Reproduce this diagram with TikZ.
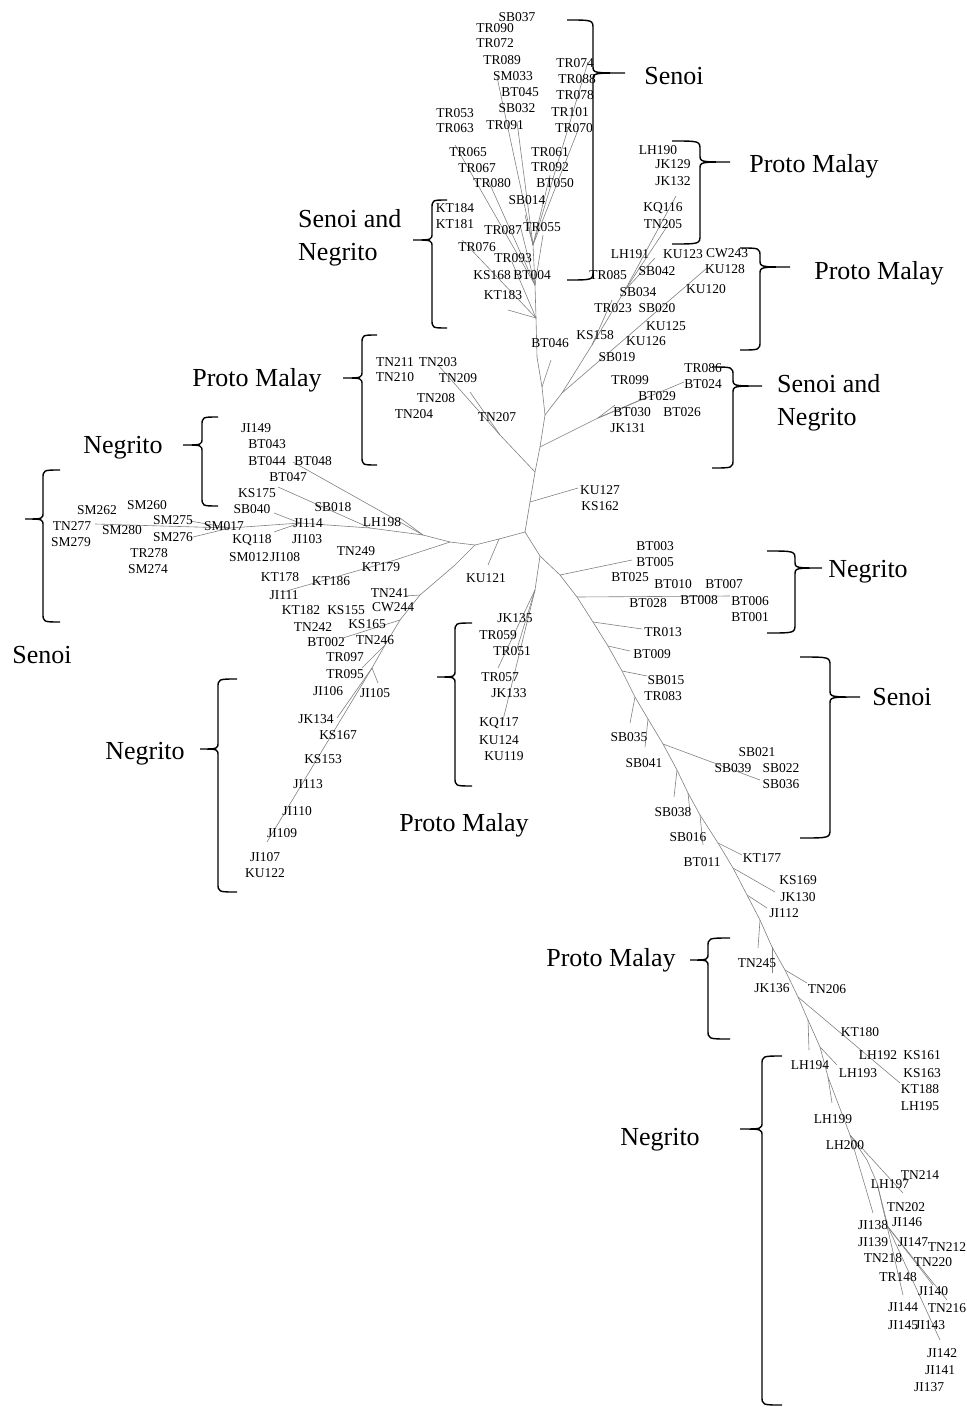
\documentclass[tikz,border=0pt]{standalone}
\usepackage{fontspec}
\setmainfont{Liberation Serif}
% curly group bracket: end x, spine x, tip x, top y, tip y, bottom y
\newcommand{\grpbrace}[6]{%
  \draw[brc] (#1,#4) .. controls (#2,#4) .. (#2,#4+9) -- (#2,#5-7)
    .. controls (#2,#5) .. (#3,#5) .. controls (#2,#5) .. (#2,#5+7)
    -- (#2,#6-9) .. controls (#2,#6) .. (#1,#6);}

\begin{document}
\begin{tikzpicture}[x=1pt,y=-1pt,
  leaf/.style={inner sep=0pt,text=black,font=\fontsize{13.5}{14}\selectfont},
  grp/.style={inner sep=0pt,text depth=0pt,font=\fontsize{26}{33}\selectfont},
  branch/.style={draw=black!50,line width=0.6pt},
  brc/.style={draw=black,line width=1.4pt}]
\useasboundingbox (0,0) rectangle (966,1407);

% inner points of the tree
\foreach \c/\x/\y in {c0/525/532, c1/530/502, c2/535/472, c3/540/447, c4/545/415,
  c5/542/387, c6/537/357, s1/536/318, s2/535/285, s3/533/245,
  pa/562/393, pb/592/345, pc/625/290, bt0/598/418, tn0/500/435,
  m0/499/539, l0/475/545, l1/450/542, l2/423/535, l3/370/528, l4/300/523, l5/230/528,
  k0/395/560, n0/455/565, n1/420/595, n2/400/620, n3/385/645, n4/372/668,
  d0/540/556, q0/535/590,
  r0/560/575, r1/577/597, r2/593/622, r3/608/646, r4/622/671, r5/635/697,
  r6/648/719, r7/663/744, r8/677/770, r9/688/793, r9a/700/815, r10/718/843,
  r11/733/868, r12/747/895, r13/760/920, r14/772/947, r15/785/970, r16/798/997,
  r17/808/1020, r18/820/1047, r19/828/1077, r20/850/1135, r21/867/1160,
  r22/877/1183, r23/888/1227}
  \coordinate (\c) at (\x,\y);

% branch tips
\foreach \c/\x/\y in {a1/508/310, a2/462/240, a3/455/145, a4/488/180, a5/512/262,
  a6/497/77, a7/517/122, a8/525/215, a9/588/62, a10/578/130, a11/550/175,
  a12/543/235, a13/520/225, a14/551/360,
  b1/612/300, b2/655/258, b3/676/196, b4/670/222, b5/707/268,
  d1/684/382, d2/615/405, d3/645/398, e1/438/365, e2/470/392, f1/578/488,
  g1/400/518, g2/293/462, g3/278/487, g4/274/513, g5/274/532, g6/95/524,
  g7/193/537, g8/190/521, h1/283/592,
  i1/405/596, i2/343/638, i3/362/668, i4/378/683, i5/337/718, i6/267/842,
  j1/488/565, j2/503/720, j3/516/652, j4/498/668,
  u1/632/560, u2/730/596, u3/642/629, u4/630/651, u5/647/676, u6/630/723,
  u7/645/747, u8/760/780, u9/674/797, u10/690/812, u11/742/855, u12/775/892,
  u13/767/908, u14/758/948, u15/772/973, u16/807/983, u17/900/1083, u18/809/1050,
  u19/837/1065, u20/832/1103, u21/903/1193, u22/873/1213, u23/903/1295,
  u24/947/1300, u25/940/1340, u26/933/1285, u27/703/845}
  \coordinate (\c) at (\x,\y);

\path[branch]
  (c0) edge (c1) (c1) edge (c2) (c2) edge (c3) (c3) edge (c4) (c4) edge (c5) (c5) edge (c6)
  (c6) edge (s1) (s1) edge (s2) (s2) edge (s3)
  (s1) edge (a1) (s1) edge (a2) (s1) edge (a5)
  (s2) edge (a3) (s2) edge (a4) (s2) edge (a12) (s2) edge (a13)
  (s3) edge (a6) (s3) edge (a7) (s3) edge (a8) (s3) edge (a9) (s3) edge (a10) (s3) edge (a11)
  (c5) edge (a14)
  (c4) edge (pa) (pa) edge (pb) (pb) edge (pc) (pb) edge (b1)
  (pc) edge (b2) (pc) edge (b3) (pc) edge (b4) (pa) edge (b5)
  (c3) edge (bt0) (bt0) edge (d1) (bt0) edge (d2) (bt0) edge (d3)
  (c2) edge (tn0) (tn0) edge (e1) (tn0) edge (e2)
  (c1) edge (f1)
  (c0) edge (m0) (m0) edge (l0) (m0) edge (j1)
  (l0) edge (l1) (l1) edge (l2) (l2) edge (g1) (l2) edge (g2) (l2) edge (l3)
  (l3) edge (g3) (l3) edge (l4) (l4) edge (g4) (l4) edge (g5) (l4) edge (l5)
  (l5) edge (g6) (l5) edge (g7) (l5) edge (g8)
  (l1) edge (k0) (k0) edge (h1)
  (l0) edge (n0) (n0) edge (n1) (n1) edge (i1) (n1) edge (n2) (n2) edge (i2)
  (n2) edge (n3) (n3) edge (i3) (n3) edge (n4) (n4) edge (i4) (n4) edge (i5) (n4) edge (i6)
  (c0) edge (d0) (d0) edge (q0) (q0) edge (j2) (q0) edge (j3) (q0) edge (j4)
  (r0) edge (u1) (r1) edge (u2) (r2) edge (u3) (r3) edge (u4) (r4) edge (u5)
  (r5) edge (u6) (r6) edge (u7) (r7) edge (u8) (r8) edge (u9) (r9) edge (u10)
  (r9a) edge (u27) (r10) edge (u11) (r11) edge (u12) (r12) edge (u13) (r13) edge (u14)
  (r14) edge (u15) (r15) edge (u16) (r16) edge (u17) (r17) edge (u18) (r18) edge (u19)
  (r19) edge (u20) (r20) edge (u21) (r20) edge (u22) (r22) edge (u23)
  (r23) edge (u24) (r23) edge (u26) (r23) edge (u25);
\draw[branch] (d0) -- (r0) -- (r1) -- (r2) -- (r3) -- (r4) -- (r5) -- (r6) -- (r7)
  -- (r8) -- (r9) -- (r9a) -- (r10) -- (r11) -- (r12) -- (r13) -- (r14) -- (r15)
  -- (r16) -- (r17) -- (r18) -- (r19) -- (r20) -- (r21) -- (r22) -- (r23);

% sample labels
\foreach \n/\x/\y in {SB037/517/17, TR090/495/28, TR072/495/43, TR089/502/60,
  SM033/513/76, BT045/520/92, SB032/517/108, TR091/505/125, TR053/455/113,
  TR063/455/128, TR074/575/63, TR088/577/79, TR078/575/95, TR101/570/112,
  TR070/574/128, TR065/468/152, TR067/477/168, TR080/492/183, TR061/550/152,
  TR092/550/167, BT050/555/183, SB014/527/200, KT184/455/208, KT181/455/224,
  TR087/503/230, TR055/542/227, TR076/477/247, TR093/513/258, KS168/492/275,
  BT004/532/275, KT183/503/295, BT046/550/343,
  LH190/658/150, JK129/673/164, JK132/673/181, KQ116/663/208, TN205/663/224,
  LH191/630/254, KU123/683/254, CW243/727/253, SB042/657/271, KU128/725/269,
  TR085/608/275, SB034/638/292, KU120/706/289, TR023/613/308, SB020/657/308,
  KU125/666/326, KS158/595/335, KU126/646/341, SB019/617/357,
  TR086/703/368, TR099/630/380, BT024/703/384, BT029/657/396, BT030/632/412,
  BT026/682/412, JK131/628/428,
  TN211/395/362, TN203/438/362, TN210/395/377, TN209/458/378, TN208/436/398,
  TN204/414/414, TN207/497/417,
  JI149/256/428, BT043/267/444, BT044/267/461, BT048/313/461, BT047/288/477,
  KS175/257/493, SB040/252/509, SB018/333/507, LH198/382/522, JI114/308/523,
  SM017/224/526, KQ118/252/540, JI103/307/539, SM012/249/557, JI108/285/557,
  SM262/97/510, SM260/147/505, TN277/72/526, SM280/122/530, SM275/173/520,
  SM276/173/537, SM279/71/542, TR278/149/553, SM274/148/569,
  TN249/356/551, KT179/381/567, KT178/280/577, KT186/331/581, JI111/284/595,
  TN241/390/593, KT182/301/610, KS155/346/610, CW244/393/607, KS165/367/624,
  TN242/313/627, BT002/326/642, TN246/375/640, TR097/345/657, TR095/345/674,
  JI106/328/691, JI105/375/693, JK134/316/719, KS167/338/735, KS153/323/759,
  JI113/308/784, JI110/297/811, JI109/282/833, JI107/265/857, KU122/265/873,
  KU121/486/578,
  JK135/515/618, TR059/498/635, TR051/512/651, TR057/500/677, JK133/509/693,
  KQ117/499/723, KU124/499/740, KU119/504/756,
  KU127/600/490, KS162/600/506, BT003/655/546, BT005/655/562, BT025/630/577,
  BT010/673/584, BT007/724/584, BT028/648/603, BT008/699/600, BT006/750/601,
  BT001/750/617, TR013/663/632, BT009/652/654, SB015/666/680, TR083/663/696,
  SB035/629/737, SB041/644/763, SB021/757/752, SB039/733/768, SB022/781/768,
  SB036/781/784, SB038/673/812, SB016/688/837, BT011/702/862, KT177/762/858,
  KS169/798/880, JK130/798/897, JI112/784/913, TN245/757/963, JK136/772/988,
  TN206/827/989, KT180/860/1032, LH192/878/1055, KS161/922/1055, LH194/810/1065,
  LH193/858/1073, KS163/922/1073, KT188/920/1089, LH195/920/1106, LH199/833/1119,
  LH200/845/1145, TN214/920/1175, LH197/890/1184, TN202/906/1207, JI138/873/1225,
  JI146/907/1222, JI139/873/1242, JI147/913/1242, TN212/947/1247, TN218/883/1258,
  TN220/933/1262, TR148/898/1277, JI140/933/1291, JI144/903/1307, TN216/947/1308,
  JI145/903/1325, JI143/930/1325, JI142/942/1353, JI141/940/1370, JI137/929/1387}
  \node[leaf] (\n) at (\x,\y) {\n};

% groups
\grpbrace{567}{593}{625}{20}{73}{280}
\grpbrace{672}{700}{730}{141}{162}{244}
\grpbrace{740}{760}{790}{248}{267}{350}
\grpbrace{712}{733}{762}{367}{386}{468}
\grpbrace{447}{432}{413}{200}{240}{328}
\grpbrace{377}{362}{343}{335}{378}{465}
\grpbrace{218}{202}{183}{417}{445}{506}
\grpbrace{60}{43}{25}{470}{519}{622}
\grpbrace{237}{218}{200}{679}{749}{892}
\grpbrace{472}{455}{437}{623}{677}{786}
\grpbrace{767}{795}{822}{551}{568}{633}
\grpbrace{800}{830}{860}{657}{697}{838}
\grpbrace{730}{708}{690}{938}{960}{1039}
\grpbrace{782}{762}{740}{1056}{1129}{1405}

\node[grp] (senoi1) at (674,76) {Senoi};
\node[grp] (proto1) at (814,163) {Proto Malay};
\node[grp] (proto2) at (879,270) {Proto Malay};
\node[grp,align=left,anchor=west,text depth=] (mixed1) at (777,403) {Senoi and\\Negrito};
\node[grp,align=left,anchor=west,text depth=] (mixed2) at (298,238) {Senoi and\\Negrito};
\node[grp] (proto3) at (257,377) {Proto Malay};
\node[grp] (negrito1) at (123,445) {Negrito};
\node[grp] (senoi2) at (42,655) {Senoi};
\node[grp] (negrito2) at (145,751) {Negrito};
\node[grp] (proto4) at (464,822) {Proto Malay};
\node[grp] (negrito3) at (868,569) {Negrito};
\node[grp] (senoi3) at (902,697) {Senoi};
\node[grp] (proto5) at (611,957) {Proto Malay};
\node[grp] (negrito4) at (660,1137) {Negrito};
\end{tikzpicture}
\end{document}
